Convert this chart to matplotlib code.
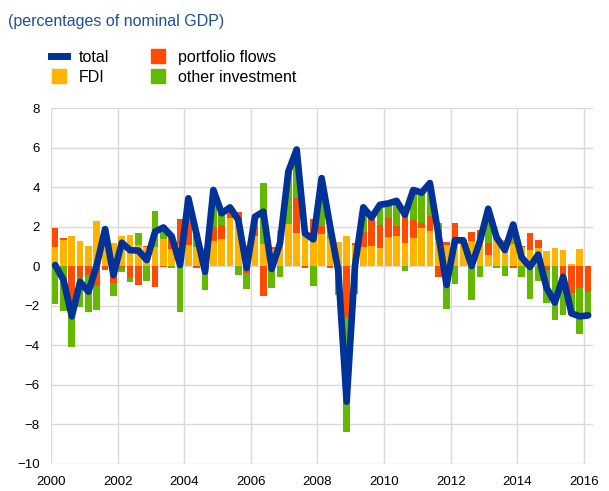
import numpy as np
import matplotlib.pyplot as plt
from matplotlib.lines import Line2D

plt.rcParams['font.family'] = ['Liberation Sans', 'DejaVu Sans']

# --- quarterly data, 2000Q1 - 2016Q1 (percentages of nominal GDP) ---
fdi = [0.95, 1.32, 1.52, 1.28, 1.01, 2.28, 1.90, 1.15, 1.50, 1.55,
       1.06, 0.95, 0.98, 1.35, 0.85, 1.06, 1.06, 0.98, 0.90, 1.28,
       1.37, 2.41, 2.16, 1.06, 1.50, 1.10, 0.84, 1.82, 2.13, 1.69,
       1.57, 1.57, 1.62, 1.35, 1.23, 1.52, 1.06, 0.98, 1.03, 0.90,
       1.45, 1.52, 1.18, 1.40, 1.94, 1.77, 1.30, 1.06, 1.30, 1.15,
       1.28, 1.28, 0.56, 1.50, 1.30, 1.10, 0.95, 0.81, 0.90, 0.76,
       0.90, 0.81, 0.10, 0.84, 0.00]
portfolio = [1.00, 0.12, -2.30, -0.62, -0.46, -1.01, -0.20, -0.84, -0.12, -0.60,
             -0.96, 0.07, -1.08, -0.05, 0.70, 1.30, 2.30, -0.12, -0.05, 0.71,
             0.71, 0.34, 0.56, -0.37, 0.50, -1.52, 0.14, 0.00, 0.00, 1.74,
             -0.12, 0.79, 0.40, -0.12, -0.62, -2.60, 0.08, 0.76, 1.30, 1.18,
             1.00, 0.51, 1.50, 0.93, 0.22, 0.76, -0.57, 0.17, 0.86, 0.15,
             0.46, 0.54, 0.60, 0.00, 0.00, -0.10, 0.05, 0.84, 0.42, -0.20,
             0.00, -1.05, -1.38, -1.13, -1.30]
other = [-1.92, -2.28, -1.80, -1.47, -1.86, -1.22, 0.10, -0.68, -0.17, -0.20,
         0.59, -0.76, 1.82, 0.70, -0.10, -2.31, 0.05, 0.67, -1.15, 1.86,
         0.59, 0.22, -0.46, -0.81, 0.45, 3.12, -1.13, -0.57, 2.65, 2.47,
         0.25, -1.00, 2.41, 0.68, -0.84, -5.79, -1.43, 1.27, 0.15, 1.10,
         0.64, 1.22, -0.25, 1.52, 1.52, 1.65, 0.86, -2.19, -0.91, 0.00,
         -1.72, -0.54, 1.75, -0.10, -0.50, 1.00, -0.54, -1.69, -0.76, -1.69,
         -2.73, -1.43, -1.10, -2.33, -1.27]
total = [0.05, -0.70, -2.55, -0.80, -1.30, 0.05, 1.87, -0.46, 1.18, 0.80,
         0.78, 0.30, 1.74, 1.95, 1.50, 0.05, 3.43, 1.57, -0.29, 3.85,
         2.67, 2.97, 2.33, -0.10, 2.50, 2.75, -0.15, 1.15, 4.78, 5.90,
         1.65, 1.35, 4.45, 2.05, -0.25, -6.87, 0.00, 2.97, 2.46, 3.10,
         3.17, 3.30, 2.60, 3.85, 3.71, 4.20, 1.65, -0.96, 1.30, 1.30,
         0.00, 1.25, 2.90, 1.45, 0.81, 2.10, 0.45, -0.05, 0.58, -1.10,
         -1.85, -0.55, -2.40, -2.55, -2.50]

x = 2000.125 + 0.25 * np.arange(len(total))

C_TOTAL = '#003299'
C_FDI = '#FFB400'
C_PF = '#FF4B00'
C_OTH = '#65B800'

fig = plt.figure(figsize=(6.09, 4.91), dpi=100)
ax = fig.add_axes([0.0837, 0.056, 0.89, 0.724])

# stack positives upward and negatives downward, in order FDI, portfolio, other
pos_base = np.zeros(len(x))
neg_base = np.zeros(len(x))
for vals, col in [(fdi, C_FDI), (portfolio, C_PF), (other, C_OTH)]:
    v = np.array(vals)
    base = np.where(v >= 0, pos_base, neg_base)
    ax.bar(x, v, width=0.2, bottom=base, color=col, edgecolor='none', zorder=2)
    pos_base += np.clip(v, 0, None)
    neg_base += np.clip(v, None, 0)

ax.plot(x, total, color=C_TOTAL, lw=4.8, solid_joinstyle='round',
        solid_capstyle='round', zorder=3)

ax.set_xlim(2000, 2016.27)
ax.set_ylim(-10, 8)
ax.set_xticks(np.arange(2000, 2017, 2))
ax.set_yticks(np.arange(-10, 9, 2))
ax.grid(True, color='#d9d9d9', lw=1.0, zorder=0)
ax.set_axisbelow(True)
for s in ax.spines.values():
    s.set_visible(False)
ax.tick_params(length=0, labelsize=9.5, colors='black')
ax.tick_params(axis='x', pad=9)
ax.tick_params(axis='y', pad=8)

fig.text(0.013, 0.956, '(percentages of nominal GDP)', color='#1F4E9E',
         fontsize=11.5, va='center', ha='left')

handles = [
    Line2D([], [], color=C_TOTAL, lw=5),
    Line2D([], [], color=C_FDI, marker='s', ms=10, ls='none'),
    Line2D([], [], color=C_PF, marker='s', ms=10, ls='none'),
    Line2D([], [], color=C_OTH, marker='s', ms=10, ls='none'),
]
labels = ['total', 'FDI', 'portfolio flows', 'other investment']
fig.legend(handles, labels, ncol=2, loc='upper left',
           bbox_to_anchor=(0.083, 0.898), frameon=False, fontsize=11.5,
           handlelength=1.0, handletextpad=0.75, columnspacing=2.6,
           labelspacing=0.3, borderaxespad=0, borderpad=0)

fig.savefig('out.png', dpi=100)
